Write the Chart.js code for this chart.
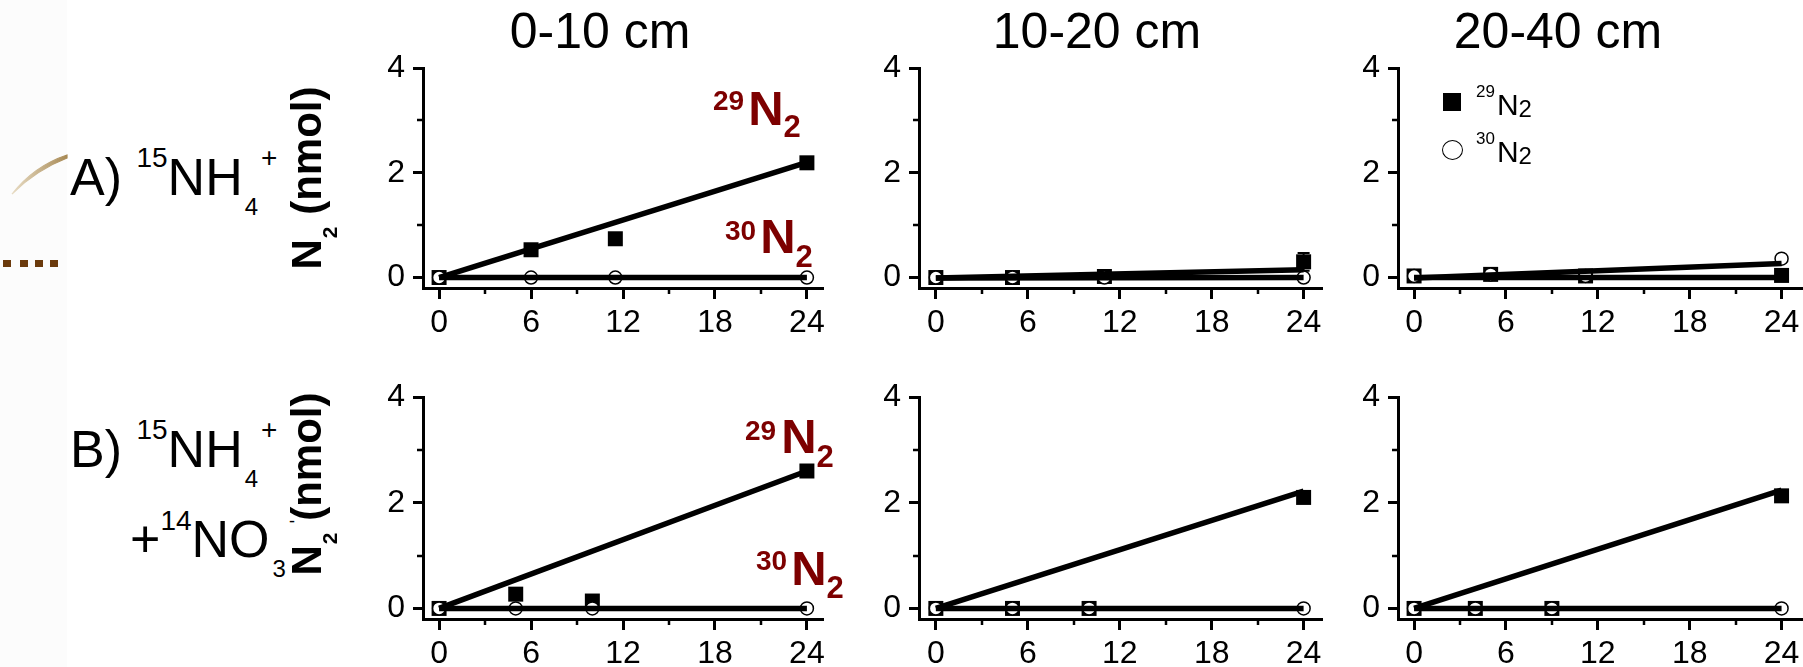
<!DOCTYPE html>
<html>
<head>
<meta charset="utf-8">
<script src="https://cdn.jsdelivr.net/npm/chart.js@4.4.0/dist/chart.umd.min.js"></script>
<style>
  html, body { margin: 0; padding: 0; background: #fff; }
  #stage { position: relative; width: 1803px; height: 667px; overflow: hidden;
           font-family: "Liberation Sans", Arial, Helvetica, sans-serif; color: #000; }
  .t { position: absolute; white-space: nowrap; }
  .red { color: #7d0000; font-weight: bold; }
  canvas { position: absolute; }
</style>
</head>
<body>
<div id="stage">
  <div style="position:absolute;left:0;top:0;width:67px;height:667px;background:#fcfcfc;"></div>
  <svg style="position:absolute;left:0;top:0" width="80" height="300">
    <defs>
      <linearGradient id="gold" x1="0" y1="0" x2="1" y2="0">
        <stop offset="0" stop-color="#e8dcc4"/>
        <stop offset="1" stop-color="#a88a55"/>
      </linearGradient>
    </defs>
    <path d="M12 194 Q 34 166 67 155 L 67 158 Q 36 170 12 194 Z" fill="url(#gold)" stroke="url(#gold)" stroke-width="1.2"/>
    <g fill="#6b3a0c">
      <rect x="3" y="260" width="8" height="7"/>
      <rect x="20" y="260" width="8" height="7"/>
      <rect x="35" y="260" width="8" height="7"/>
      <rect x="50" y="260" width="8" height="7"/>
    </g>
  </svg>
</div>
<script>
// ---- N2 production (nmol) vs incubation time (h) ----
const fitTimes = [0, 24];

// A) 15NH4+ amendment
const timeA1 = [0, 6, 11.5, 24];
const n29A1  = [0, 0.53, 0.74, 2.19];
const n30A1  = [0, 0, 0, 0];
const err29A1 = [0, 0.03, 0.06, 0.04];
const fit29A1 = [0, 2.2];
const fit30A1 = [0, 0];

const timeA2 = [0, 5, 11, 24];
const n29A2  = [0, 0, 0.02, 0.3];
const n30A2  = [0, 0, 0, 0];
const err29A2 = [0, 0, 0.02, 0.17];
const fit29A2 = [-0.01, 0.15];
const fit30A2 = [-0.01, 0];

const timeA3 = [0, 5, 11.2, 24];
const n29A3  = [0.03, 0.06, 0.03, 0.04];
const n30A3  = [0.03, 0.06, 0.03, 0.36];
const err29A3 = [0, 0, 0, 0.04];
const fit29A3 = [0, 0];
const fit30A3 = [-0.01, 0.27];

// B) 15NH4+ + 14NO3- amendment
const timeB1 = [0, 5, 10, 24];
const n29B1  = [0, 0.27, 0.14, 2.6];
const n30B1  = [0, 0, 0, 0];
const err29B1 = [0, 0.02, 0.02, 0.05];
const fit29B1 = [0, 2.6];
const fit30B1 = [0, 0];

const timeB2 = [0, 5, 10, 24];
const n29B2  = [0, 0, 0, 2.1];
const n30B2  = [0, 0, 0, 0];
const err29B2 = [0, 0, 0, 0.05];
const fit29B2 = [0, 2.22];
const fit30B2 = [0, 0];

const timeB3 = [0, 4, 9, 24];
const n29B3  = [0, 0, 0, 2.13];
const n30B3  = [0, 0, 0, 0];
const err29B3 = [0, 0, 0, 0.04];
const fit29B3 = [0, 2.24];
const fit30B3 = [0, 0];

// axis ticks
const xTickVals  = [0, 6, 12, 18, 24];
const xMinorVals = [3, 9, 15, 21];
const yTickVals  = [0, 2, 4];
const yMinorVals = [1, 3];

const depthLabels = ['0-10 cm', '10-20 cm', '20-40 cm'];

// ---- layout ----
const FONT = '"Liberation Sans", Arial, Helvetica, sans-serif';
const stage = document.getElementById('stage');

const panels = [
  { left: 423,  top: 68,  w: 400, h: 220, xmin: -1.05, xmax: 25.05, t: timeA1, n29: n29A1, n30: n30A1, e29: err29A1, f29: fit29A1, f30: fit30A1 },
  { left: 919,  top: 68,  w: 403, h: 220, xmin: -1.1,  xmax: 25.2,  t: timeA2, n29: n29A2, n30: n30A2, e29: err29A2, f29: fit29A2, f30: fit30A2 },
  { left: 1398, top: 68,  w: 405, h: 220, xmin: -1.05, xmax: 25.4,  t: timeA3, n29: n29A3, n30: n30A3, e29: err29A3, f29: fit29A3, f30: fit30A3 },
  { left: 423,  top: 397, w: 400, h: 222, xmin: -1.05, xmax: 25.05, t: timeB1, n29: n29B1, n30: n30B1, e29: err29B1, f29: fit29B1, f30: fit30B1 },
  { left: 919,  top: 397, w: 403, h: 222, xmin: -1.1,  xmax: 25.2,  t: timeB2, n29: n29B2, n30: n30B2, e29: err29B2, f29: fit29B2, f30: fit30B2 },
  { left: 1398, top: 397, w: 405, h: 222, xmin: -1.05, xmax: 25.4,  t: timeB3, n29: n29B3, n30: n30B3, e29: err29B3, f29: fit29B3, f30: fit30B3 }
];

const Y_AXIS_W = 90, X_AXIS_H = 75, PAD_T = 30, PAD_R = 25;

// short minor tick marks on both axes
const minorTicks = {
  id: 'minorTicks',
  afterDraw(chart) {
    const { ctx, chartArea: ca, scales: { x, y } } = chart;
    ctx.save();
    ctx.strokeStyle = '#000';
    ctx.lineWidth = 2.5;
    ctx.beginPath();
    xMinorVals.forEach(v => {
      const px = Math.round(x.getPixelForValue(v));
      ctx.moveTo(px, ca.bottom); ctx.lineTo(px, ca.bottom + 6);
    });
    yMinorVals.forEach(v => {
      const py = Math.round(y.getPixelForValue(v));
      ctx.moveTo(ca.left - 6, py); ctx.lineTo(ca.left, py);
    });
    ctx.stroke();
    ctx.restore();
  }
};

// vertical error bars for datasets carrying an errorBars array
const errorBars = {
  id: 'errorBars',
  beforeDatasetsDraw(chart) {
    const { ctx, scales: { x, y } } = chart;
    ctx.save();
    ctx.strokeStyle = '#000';
    ctx.lineWidth = 2;
    chart.data.datasets.forEach(ds => {
      if (!ds.errorBars) return;
      ds.data.forEach((pt, i) => {
        const e = ds.errorBars[i];
        if (!e) return;
        const px = x.getPixelForValue(pt.x);
        const top = y.getPixelForValue(pt.y + e);
        const bot = y.getPixelForValue(pt.y - e);
        ctx.beginPath();
        ctx.moveTo(px, top); ctx.lineTo(px, bot);
        ctx.moveTo(px - 6, top); ctx.lineTo(px + 6, top);
        ctx.moveTo(px - 6, bot); ctx.lineTo(px + 6, bot);
        ctx.stroke();
      });
    });
    ctx.restore();
  }
};

function makeChart(p, cw, ch) {
  const cv = document.createElement('canvas');
  cv.width = cw; cv.height = ch;
  cv.style.width = cw + 'px'; cv.style.height = ch + 'px';
  cv.style.left = (p.left - Y_AXIS_W) + 'px';
  cv.style.top = (p.top - PAD_T) + 'px';
  stage.appendChild(cv);
  const pts = (xs, ys) => xs.map((v, i) => ({ x: v, y: ys[i] }));
  const chart = new Chart(cv, {
    type: 'scatter',
    data: {
      datasets: [
        { label: '29N2 fit', data: pts(fitTimes, p.f29), showLine: true, borderColor: '#000',
          borderWidth: 5.5, pointRadius: 0, borderCapStyle: 'butt', order: 0 },
        { label: '30N2 fit', data: pts(fitTimes, p.f30), showLine: true, borderColor: '#000',
          borderWidth: 5.5, pointRadius: 0, borderCapStyle: 'butt', order: 0 },
        { label: '30N2', data: pts(p.t, p.n30), pointStyle: 'circle', pointRadius: 6.5,
          backgroundColor: '#fff', borderColor: '#000', borderWidth: 1.5, order: 1 },
        { label: '29N2', data: pts(p.t, p.n29), pointStyle: 'rect', pointRadius: 10.6,
          backgroundColor: '#000', borderColor: '#000', borderWidth: 0, errorBars: p.e29, order: 2 }
      ]
    },
    options: {
      responsive: false, animation: false, events: [], devicePixelRatio: 1,
      layout: { padding: { left: 0, top: PAD_T, right: PAD_R, bottom: 0 } },
      plugins: { legend: { display: false }, tooltip: { enabled: false } },
      scales: {
        x: {
          type: 'linear', min: p.xmin, max: p.xmax,
          afterBuildTicks: s => { s.ticks = xTickVals.map(v => ({ value: v })); },
          afterFit: s => { s.height = X_AXIS_H; },
          ticks: { font: { family: FONT, size: 32 }, color: '#000', padding: 5,
                   maxRotation: 0, autoSkip: false, callback: v => String(v) },
          grid: { display: true, drawOnChartArea: false, drawTicks: true, tickLength: 11,
                  tickWidth: 3, tickColor: '#000' },
          border: { display: true, color: '#000', width: 3 }
        },
        y: {
          type: 'linear', min: -0.2, max: 4,
          afterBuildTicks: s => { s.ticks = yTickVals.map(v => ({ value: v })); },
          afterFit: s => { s.width = Y_AXIS_W; },
          ticks: { font: { family: FONT, size: 32 }, color: '#000', padding: 8,
                   autoSkip: false, callback: v => String(v) },
          grid: { display: true, drawOnChartArea: false, drawTicks: true, tickLength: 10,
                  tickWidth: 3, tickColor: '#000' },
          border: { display: true, color: '#000', width: 3 }
        }
      }
    },
    plugins: [minorTicks, errorBars]
  });
  return { cv, chart };
}

panels.forEach(p => {
  let cw = Y_AXIS_W + p.w + PAD_R, ch = PAD_T + p.h + X_AXIS_H;
  let built = makeChart(p, cw, ch);
  const ca = built.chart.chartArea;
  const dw = p.w - (ca.right - ca.left), dh = p.h - (ca.bottom - ca.top);
  if (Math.abs(dw) > 0.5 || Math.abs(dh) > 0.5) {
    built.chart.destroy(); built.cv.remove();
    built = makeChart(p, cw + dw, ch + dh);
  }
  const a = built.chart.chartArea;
  built.cv.style.left = (p.left - a.left) + 'px';
  built.cv.style.top = (p.top - a.top) + 'px';
});

// ---- text ----
// place a line of text by its left edge and baseline
function textAt(html, left, baseline, size, cls, extra) {
  const d = document.createElement('div');
  d.className = 't' + (cls ? ' ' + cls : '');
  d.style.left = left + 'px';
  d.style.top = (baseline - 0.8465 * size) + 'px';
  d.style.fontSize = size + 'px';
  d.style.lineHeight = size + 'px';
  if (extra) Object.assign(d.style, extra);
  d.innerHTML = html;
  stage.appendChild(d);
  return d;
}
const sup = (s, size, dy, ml) => `<span style="font-size:${size}px;position:relative;top:${dy}px;${ml ? 'margin-left:' + ml + 'px;' : ''}">${s}</span>`;

// column titles
const titleCenters = [600, 1097, 1558];
depthLabels.forEach((s, i) => {
  textAt(s, titleCenters[i] - 200, 48, 50, '', { width: '400px', textAlign: 'center' });
});

// treatment labels
textAt('A) ' + sup('15', 28, -28) + 'NH' + sup('4', 24, 20, 2) + sup('+', 28, -28, 3), 70, 195, 52);
textAt('B) ' + sup('15', 28, -28) + 'NH' + sup('4', 24, 20, 2) + sup('+', 28, -28, 3), 70, 467, 52);
textAt('+' + sup('14', 28, -27) + 'NO' + sup('3', 24, 20, 3) + sup('-', 18, -30, 3), 130, 557, 52);

// rotated y-axis titles
function yTitle(cx, cy) {
  const d = document.createElement('div');
  d.className = 't';
  d.style.left = cx + 'px';
  d.style.top = cy + 'px';
  d.style.fontSize = '42px';
  d.style.lineHeight = '42px';
  d.style.fontWeight = 'bold';
  d.style.transform = 'translate(-50%,-50%) rotate(-90deg)';
  d.innerHTML = 'N' + sup('2', 21, 16, 1) + ' (nmol)';
  stage.appendChild(d);
}
yTitle(310, 178);
yTitle(310, 484);

// isotope labels in the 0-10 cm panels
textAt(sup('29', 28, -15) + '<span style="margin-left:4px">N</span>' + sup('2', 31, 12), 713, 125, 49, 'red');
textAt(sup('30', 28, -13) + '<span style="margin-left:4px">N</span>' + sup('2', 31, 14), 725, 253, 49, 'red');
textAt(sup('29', 28, -13) + '<span style="margin-left:5px">N</span>' + sup('2', 31, 14), 745, 453, 49, 'red');
textAt(sup('30', 28, -15) + '<span style="margin-left:4px">N</span>' + sup('2', 31, 13), 756, 585, 49, 'red');

// legend (20-40 cm panel)
const sq = document.createElement('div');
Object.assign(sq.style, { position: 'absolute', left: '1443px', top: '93px', width: '18px', height: '18px', background: '#000' });
stage.appendChild(sq);
const ci = document.createElement('div');
Object.assign(ci.style, { position: 'absolute', left: '1442px', top: '140px', width: '21px', height: '20px',
  border: '1.5px solid #000', borderRadius: '50%', boxSizing: 'border-box', background: '#fff' });
stage.appendChild(ci);
textAt(sup('29', 17, -18) + '<span style="margin-left:2px">N</span>' + sup('2', 24, 2), 1476, 115, 30);
textAt(sup('30', 17, -18) + '<span style="margin-left:2px">N</span>' + sup('2', 24, 2), 1476, 162, 30);
</script>
</body>
</html>
